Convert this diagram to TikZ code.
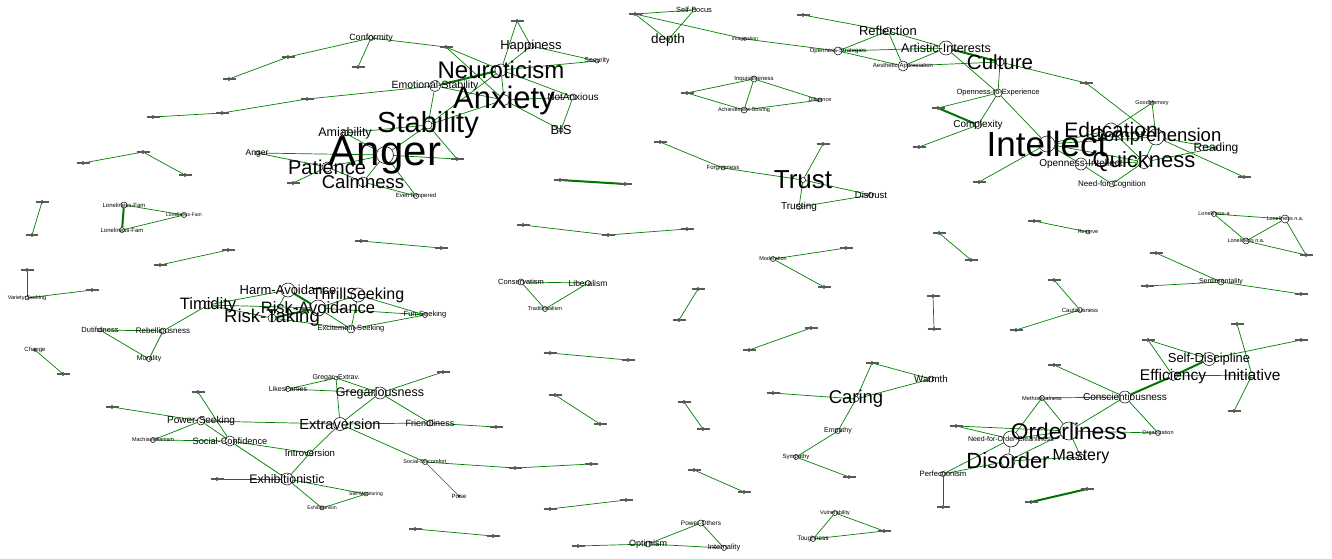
\documentclass[tikz,border=0pt]{standalone}
\usepackage{fontspec}
\setmainfont{Liberation Sans}
\usetikzlibrary{backgrounds}

\begin{document}
\begin{tikzpicture}
    [x=1pt, y=-1pt,
     nd/.style = {circle, draw, line width=.5pt, inner sep=0pt, minimum size=#1},
     lab/.style = {inner sep=0pt, font=\fontsize{#1}{#1}\selectfont},
     tn/.style = {circle, draw, line width=.4pt, inner sep=0pt, minimum size=3pt,
                  label={[inner sep=0pt, black!65]center:\rule{13pt}{1.1pt}}},
     ed/.style = {draw=green!50!black, line width=.7pt},
     edk/.style = {draw=green!45!black, line width=2pt}]
    \useasboundingbox (0,0) rectangle (1332,559);

    % neuroticism / anger
    \node[tn] (t01) at (229,79) {};
    \node[tn] (neg) at (288,57) {};
    \node[nd=5pt, label={[lab=9]center:Conformity}] (conformity) at (371,38) {};
    \node[tn] (t02) at (358,67) {};
    \node[tn] (t03) at (446,47) {};
    \node[tn] (t04) at (307,99) {};
    \node[tn] (jeal) at (222,113) {};
    \node[tn] (t05) at (153,117) {};
    \node[tn] (trustd) at (143,152) {};
    \node[tn] (t06) at (83,163) {};
    \node[tn] (t07) at (185,175) {};
    \node[nd=4pt, label={[lab=8.5]center:Anger}] (angers) at (257,153) {};
    \node[tn] (t08) at (517,21) {};
    \node[nd=6pt, label={[lab=13]center:Happiness}] (happiness) at (531,46) {};
    \node[nd=4pt, label={[lab=7]center:Security}] (security) at (597,61) {};
    \node[nd=12pt, label={[lab=24]center:Neuroticism}] (neuroticism) at (501,70) {};
    \node[nd=11pt, label={[lab=10.5]center:Emotional-Stability}] (emostab) at (435,86) {};
    \node[nd=11pt, label={[lab=31]center:Anxiety}] (anxiety) at (504,100) {};
    \node[nd=6pt, label={[lab=10]center:NotAnxious}] (notanx) at (573,97) {};
    \node[nd=4pt, label={[lab=13]center:BIS}] (bis) at (561,130) {};
    \node[nd=8pt, label={[lab=29]center:Stability}] (stability) at (428,125) {};
    \node[nd=6pt, label={[lab=12.5]center:Amiability}] (amiab) at (345,133) {};
    \node[nd=17pt, label={[lab=42]center:Anger}] (anger) at (385,155) {};
    \node[nd=10pt, label={[lab=20]center:Patience}] (patience) at (327,167) {};
    \node[nd=10pt, label={[lab=18.5]center:Calmness}] (calmness) at (363,182) {};
    \node[tn] (volat) at (457,159) {};
    \node[nd=5pt, label={[lab=6]center:EvenTempered}] (eventemp) at (416,196) {};
    \node[tn] (t09) at (293,183) {};

    % openness
    \node[tn] (proself) at (635,14) {};
    \node[nd=4pt, label={[lab=7.5]center:Self-Focus}] (selffocus) at (694,10) {};
    \node[nd=3pt, label={[lab=13.5]center:depth}] (depth) at (668,40) {};
    \node[nd=3pt, label={[lab=5]center:Imagination}] (imagin) at (745,39) {};
    \node[tn] (t10) at (803,15) {};
    \node[nd=7pt, label={[lab=13]center:Reflection}] (reflection) at (888,31) {};
    \node[nd=8pt, label={[lab=6]center:Openness-Strategies}] (openstrat) at (838,51) {};
    \node[nd=10pt, label={[lab=6]center:Aesthetic-Appreciation}] (aesth) at (903,66) {};
    \node[nd=14pt, label={[lab=12.5]center:Artistic-Interests}] (artint) at (946,48) {};
    \node[nd=8pt, label={[lab=20.5]center:Culture}] (culture) at (1000,62) {};
    \node[nd=8pt, label={[lab=7.5]center:Openness-to-Experience}] (openexp) at (998,93) {};
    \node[tn] (intcur) at (938,108) {};
    \node[nd=7pt, label={[lab=10]center:Complexity}] (complexity) at (978,125) {};
    \node[tn] (t11) at (919,147) {};
    \node[tn] (t12) at (979,182) {};
    \node[nd=6pt, label={[lab=6]center:Inquisitiveness}] (inquis) at (754,79) {};
    \node[tn] (t13) at (687,93) {};
    \node[nd=6pt, label={[lab=5.5]center:Achievement-Striving}] (achiev) at (744,110) {};
    \node[nd=4pt, label={[lab=5.5]center:Diligence}] (diligence) at (820,100) {};
    \node[nd=4pt, label={[lab=6]center:Forgiveness}] (forgiv) at (723,168) {};
    \node[tn] (t14) at (660,142) {};
    \node[tn] (t15) at (823,144) {};
    \node[nd=5pt, label={[lab=26]center:Trust}] (trust) at (803,180) {};
    \node[nd=5pt, label={[lab=10]center:Trusting}] (trusting) at (799,207) {};
    \node[nd=5pt, label={[lab=9.5]center:Distrust}] (distrust) at (871,195) {};
    \node[tn] (ingen) at (560,180) {};
    \node[tn] (t16) at (625,184) {};

    % intellect
    \node[tn] (t17) at (1086,83) {};
    \node[nd=4pt, label={[lab=5.5]center:GoodMemory}] (goodmem) at (1152,103) {};
    \node[nd=16pt, label={[lab=18.5]center:Comprehension}] (comprehension) at (1156,137) {};
    \node[nd=14pt, label={[lab=21]center:Education}] (education) at (1111,130) {};
    \node[nd=16pt, label={[lab=35]center:Intellect}] (intellect) at (1047,144) {};
    \node[nd=13pt, label={[lab=22]center:Quickness}] (quickness) at (1144,162) {};
    \node[nd=12pt, label={[lab=10]center:Openness-Intellect}] (openint) at (1081,164) {};
    \node[nd=6pt, label={[lab=8]center:Need-for-Cognition}] (needcog) at (1112,184) {};
    \node[nd=3pt, label={[lab=12]center:Reading}] (reading) at (1216,148) {};
    \node[tn] (t18) at (1244,177) {};

    % middle left
    \node[tn] (t19) at (42,202) {};
    \node[tn] (t20) at (32,235) {};
    \node[nd=6pt, label={[lab=6]center:Loneliness-Fam}] (lonfam1) at (124,205) {};
    \node[nd=5pt, label={[lab=6]center:Loneliness-Fam}] (lonfam2) at (122,230) {};
    \node[nd=5pt, label={[lab=5]center:Loneliness-Fam}] (lonfam3) at (184,215) {};
    \node[tn] (t21) at (228,250) {};
    \node[tn] (t22) at (160,265) {};
    \node[tn] (t23) at (27,270) {};
    \node[nd=4pt, label={[lab=5.5]center:Variety-Seeking}] (variety) at (27,298) {};
    \node[tn] (t24) at (92,290) {};
    \node[nd=4pt, label={[lab=7.5]center:Dutifulness}] (dutiful) at (100,330) {};
    \node[nd=6pt, label={[lab=8]center:Rebelliousness}] (rebell) at (163,331) {};
    \node[nd=5pt, label={[lab=7]center:Morality}] (morality) at (149,359) {};
    \node[nd=8pt, label={[lab=16.5]center:Timidity}] (timidity) at (208,305) {};
    \node[nd=3pt, label={[lab=6]center:Change}] (change) at (35,350) {};
    \node[tn] (t25) at (63,374) {};
    \node[nd=14pt, label={[lab=13]center:Harm-Avoidance}] (harmav) at (288,290) {};
    \node[nd=16pt, label={[lab=16.5]center:Risk-Avoidance}] (riskav) at (318,308) {};
    \node[nd=8pt, label={[lab=18.5]center:Risk-Taking}] (risktak) at (272,318) {};
    \node[nd=14pt, label={[lab=16]center:ThrillSeeking}] (thrill) at (358,295) {};
    \node[nd=5pt, label={[lab=7.5]center:Fun-Seeking}] (funseek) at (425,315) {};
    \node[nd=8pt, label={[lab=7.5]center:Excitement-Seeking}] (excit) at (351,329) {};
    \node[tn] (t26) at (361,241) {};
    \node[tn] (t27) at (441,248) {};
    \node[nd=6pt, label={[lab=7.5]center:Conservatism}] (conserv) at (521,282) {};
    \node[nd=5pt, label={[lab=8.5]center:Liberalism}] (liberal) at (588,283) {};
    \node[nd=5pt, label={[lab=5.5]center:Traditionalism}] (tradit) at (545,309) {};
    \node[tn] (t28) at (550,353) {};
    \node[tn] (t29) at (628,360) {};
    \node[tn] (t30) at (523,225) {};
    \node[tn] (credul) at (608,235) {};
    \node[tn] (t31) at (687,229) {};

    % middle right
    \node[nd=5pt, label={[lab=5.5]center:Moderation}] (moder) at (773,259) {};
    \node[tn] (t32) at (846,248) {};
    \node[tn] (t33) at (824,287) {};
    \node[tn] (t34) at (939,233) {};
    \node[tn] (t35) at (971,260) {};
    \node[tn] (t36) at (698,289) {};
    \node[tn] (t37) at (679,320) {};
    \node[tn] (t38) at (933,296) {};
    \node[tn] (t39) at (934,329) {};
    \node[tn] (t40) at (811,328) {};
    \node[tn] (t41) at (749,350) {};
    \node[tn] (agree) at (872,363) {};
    \node[nd=4pt, label={[lab=5.5]center:Reserve}] (reserve) at (1088,232) {};
    \node[tn] (t42) at (1034,221) {};
    \node[nd=5pt, label={[lab=5.5]center:Loneliness-a}] (lona) at (1214,214) {};
    \node[nd=8pt, label={[lab=5.5]center:Loneliness n.a.}] (lonna1) at (1285,219) {};
    \node[nd=6pt, label={[lab=5.5]center:Loneliness n.a.}] (lonna2) at (1246,241) {};
    \node[tn] (t43) at (1306,255) {};
    \node[nd=5pt, label={[lab=6]center:Cautiousness}] (caution) at (1080,310) {};
    \node[tn] (t44) at (1054,280) {};
    \node[tn] (t45) at (1016,330) {};
    \node[nd=6pt, label={[lab=7]center:Sentimentality}] (sentim) at (1221,282) {};
    \node[tn] (t46) at (1156,253) {};
    \node[tn] (t47) at (1147,286) {};
    \node[tn] (t48) at (1301,294) {};

    % conscientiousness
    \node[tn] (t49) at (1148,340) {};
    \node[tn] (t50) at (1237,324) {};
    \node[tn] (t51) at (1301,340) {};
    \node[tn] (t52) at (1054,365) {};
    \node[nd=13pt, label={[lab=13]center:Self-Discipline}] (selfdisc) at (1209,359) {};
    \node[nd=9pt, label={[lab=15.5]center:Efficiency}] (effic) at (1173,376) {};
    \node[nd=6pt, label={[lab=15.5]center:Initiative}] (initiat) at (1252,375) {};
    \node[tn] (t53) at (1234,411) {};
    \node[nd=12pt, label={[lab=10]center:Conscientiousness}] (consc) at (1125,397) {};
    \node[nd=5pt, label={[lab=5.7]center:Methodicalness}] (method) at (1042,398) {};
    \node[nd=5pt, label={[lab=5.5]center:Organization}] (organiz) at (1158,433) {};
    \node[nd=18pt, label={[lab=22.7]center:Orderliness}] (orderl) at (1069,431) {};
    \node[nd=16pt, label={[lab=7]center:Need-for-Order-Cleanliness}] (needord) at (1011,439) {};
    \node[nd=14pt, label={[lab=22]center:Disorder}] (disorder) at (1008,461) {};
    \node[nd=6pt, label={[lab=16]center:Mastery}] (mastery) at (1081,457) {};
    \node[tn] (t54) at (956,426) {};
    \node[nd=5pt, label={[lab=7.7]center:Perfectionism}] (perfect) at (943,474) {};
    \node[tn] (t55) at (943,507) {};
    \node[tn] (t56) at (1087,489) {};
    \node[tn] (t57) at (1031,502) {};

    % agreeableness
    \node[nd=6pt, label={[lab=9.7]center:Warmth}] (warmth) at (931,379) {};
    \node[nd=5pt, label={[lab=18.5]center:Caring}] (caring) at (856,399) {};
    \node[tn] (t58) at (773,393) {};
    \node[nd=5pt, label={[lab=7]center:Empathy}] (empathy) at (838,431) {};
    \node[nd=5pt, label={[lab=6]center:Sympathy}] (sympathy) at (796,457) {};
    \node[tn] (t59) at (849,477) {};
    \node[tn] (t60) at (684,402) {};
    \node[tn] (t61) at (703,429) {};
    \node[tn] (t62) at (694,470) {};
    \node[tn] (t63) at (744,492) {};
    \node[nd=5pt, label={[lab=5.5]center:Vulnerability}] (vuln) at (835,513) {};
    \node[tn] (calmhc) at (884,531) {};
    \node[nd=5pt, label={[lab=6.5]center:Toughness}] (tough) at (813,539) {};
    \node[nd=6pt, label={[lab=6.5]center:Power-Others}] (powoth) at (701,523) {};
    \node[nd=5pt, label={[lab=7.5]center:Internality}] (internal) at (724,548) {};
    \node[nd=6pt, label={[lab=9]center:Optimism}] (optim) at (648,544) {};
    \node[tn] (t64) at (578,546) {};

    % extraversion
    \node[nd=5pt, label={[lab=7]center:LikesParties}] (likes) at (288,389) {};
    \node[nd=4pt, label={[lab=7]center:Gregar.-Extrav.}] (gregex) at (336,378) {};
    \node[nd=12pt, label={[lab=12.5]center:Gregariousness}] (greg) at (380,393) {};
    \node[tn] (sociab) at (443,372) {};
    \node[nd=13pt, label={[lab=14.6]center:Extraversion}] (extrav) at (340,424) {};
    \node[nd=6pt, label={[lab=9]center:Friendliness}] (friend) at (430,423) {};
    \node[tn] (t65) at (496,427) {};
    \node[nd=5pt, label={[lab=5.5]center:Social-Discomfort}] (socdisc) at (425,462) {};
    \node[nd=2pt, label={[lab=6]center:Poise}] (poise) at (459,496) {};
    \node[tn] (t66) at (515,468) {};
    \node[tn] (t67) at (591,464) {};
    \node[nd=10pt, label={[lab=9.2]center:Social-Confidence}] (socconf) at (230,441) {};
    \node[nd=8pt, label={[lab=10]center:Power-Seeking}] (powseek) at (201,421) {};
    \node[nd=5pt, label={[lab=5.5]center:Machiavellianism}] (machia) at (153,440) {};
    \node[tn] (t68) at (112,407) {};
    \node[tn] (t69) at (198,392) {};
    \node[nd=6pt, label={[lab=9.6]center:Introversion}] (introv) at (310,453) {};
    \node[nd=12pt, label={[lab=12.4]center:Exhibitionistic}] (exhibt) at (287,479) {};
    \node[tn] (t70) at (217,479) {};
    \node[nd=4pt, label={[lab=5]center:Exhibitionism}] (exhibm) at (322,508) {};
    \node[nd=4pt, label={[lab=5]center:Self-Monitoring}] (selfmon) at (366,494) {};
    \node[tn] (t71) at (555,395) {};
    \node[tn] (t72) at (600,424) {};
    \node[tn] (t73) at (550,509) {};
    \node[tn] (t74) at (626,500) {};
    \node[tn] (t75) at (415,529) {};
    \node[tn] (t76) at (493,536) {};

    \begin{pgfonlayer}{background}
    \fill[white] (0,0) rectangle (1332,559);
    \foreach \from/\to in {neg/t01,neg/conformity,conformity/t02,conformity/t03,t03/neuroticism,t03/anxiety,
        t04/jeal,t04/emostab,jeal/t05,trustd/t06,trustd/t07,angers/anger,angers/patience,
        t08/happiness,t08/neuroticism,happiness/neuroticism,happiness/security,neuroticism/security,
        neuroticism/emostab,neuroticism/anxiety,neuroticism/notanx,neuroticism/stability,emostab/anxiety,
        emostab/stability,anxiety/notanx,anxiety/bis,notanx/bis,anxiety/stability,stability/anger,
        stability/amiab,stability/volat,anger/amiab,anger/patience,anger/calmness,anger/volat,
        anger/eventemp,patience/calmness,patience/amiab,calmness/eventemp,patience/t09,
        proself/selffocus,proself/depth,selffocus/depth,proself/imagin,imagin/openstrat,t10/reflection,
        reflection/openstrat,reflection/aesth,reflection/artint,openstrat/artint,openstrat/aesth,
        aesth/artint,aesth/culture,artint/openexp,culture/openexp,intcur/openexp,openexp/complexity,
        complexity/t11,openexp/intellect,culture/t17,t17/comprehension,goodmem/comprehension,
        goodmem/education,intellect/education,intellect/comprehension,intellect/quickness,
        intellect/openint,intellect/t12,education/comprehension,education/quickness,
        quickness/comprehension,quickness/reading,comprehension/reading,comprehension/t18,
        openint/quickness,openint/needcog,quickness/needcog,
        t13/inquis,t13/achiev,inquis/achiev,inquis/diligence,achiev/diligence,t14/forgiv,forgiv/trust,
        t15/trust,trust/trusting,trust/distrust,trusting/distrust,ingen/t16,
        t19/t20,lonfam1/lonfam3,lonfam2/lonfam3,t21/t22,t23/variety,variety/t24,dutiful/rebell,
        dutiful/morality,rebell/morality,rebell/timidity,change/t25,timidity/harmav,timidity/riskav,
        timidity/risktak,harmav/risktak,riskav/thrill,riskav/funseek,riskav/excit,thrill/funseek,
        thrill/excit,excit/funseek,risktak/excit,t26/t27,conserv/liberal,conserv/tradit,liberal/tradit,
        t28/t29,t30/credul,credul/t31,
        moder/t32,moder/t33,t34/t35,t36/t37,t38/t39,t40/t41,agree/caring,agree/warmth,caring/warmth,
        caring/t58,caring/empathy,empathy/sympathy,sympathy/t59,t60/t61,t62/t63,vuln/tough,vuln/calmhc,
        tough/calmhc,powoth/internal,optim/powoth,optim/internal,optim/t64,
        reserve/t42,lona/lonna1,lona/lonna2,lonna1/lonna2,lonna1/t43,lonna2/t43,caution/t44,caution/t45,
        sentim/t46,sentim/t47,sentim/t48,
        t49/selfdisc,t49/effic,t50/initiat,selfdisc/t51,effic/initiat,initiat/t53,consc/t52,consc/method,
        consc/orderl,consc/organiz,method/orderl,method/needord,orderl/organiz,orderl/mastery,
        orderl/needord,orderl/disorder,needord/disorder,disorder/mastery,t54/orderl,t54/needord,
        disorder/perfect,needord/perfect,perfect/t55,
        gregex/likes,gregex/greg,gregex/extrav,likes/greg,greg/extrav,greg/friend,greg/sociab,
        extrav/friend,friend/t65,extrav/powseek,extrav/introv,extrav/socdisc,socdisc/poise,socdisc/t66,
        t66/t67,powseek/socconf,powseek/machia,powseek/t68,socconf/machia,socconf/t69,socconf/introv,
        socconf/exhibt,introv/exhibt,exhibt/t70,exhibt/exhibm,exhibt/selfmon,exhibm/selfmon,
        t71/t72,t73/t74,t75/t76}
      \draw[ed] (\from) -- (\to);
    \foreach \from/\to in {lonfam1/lonfam2,harmav/riskav,risktak/riskav,artint/culture,intcur/complexity,
        consc/effic,effic/selfdisc,ingen/t16,t56/t57,emostab/neuroticism}
      \draw[edk] (\from) -- (\to);
    \end{pgfonlayer}
\end{tikzpicture}
\end{document}
